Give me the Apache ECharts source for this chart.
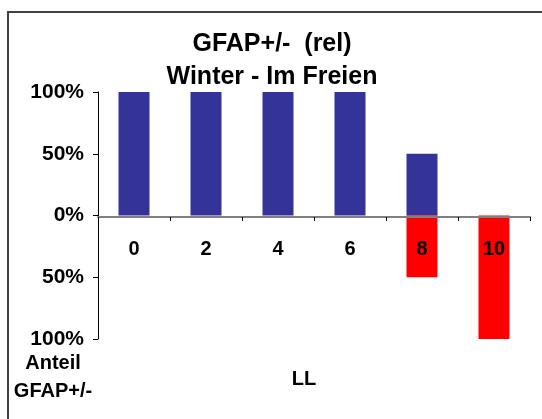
<!DOCTYPE html>
<html>
<head>
<meta charset="utf-8">
<script src="https://cdn.jsdelivr.net/npm/echarts@6/dist/echarts.min.js"></script>
<style>
  html, body { margin: 0; padding: 0; background: #fff; }
  #chart { width: 542px; height: 419px; }
</style>
</head>
<body>
<div id="chart"></div>
<script>
// 数据
var categories = ['0', '2', '4', '6', '8', '10'];
var positiveValues = [100, 100, 100, 100, 50, 0];
var negativeValues = [0, 0, 0, 0, -50, -100];

var chart = echarts.init(document.getElementById('chart'));

var font = 'Liberation Sans, Arial, sans-serif';

var option = {
    animation: false,
    title: {
        text: 'GFAP+/-  (rel)\nWinter - Im Freien',
        left: 267,
        textAlign: 'center',
        top: 23,
        textStyle: {
            fontFamily: font,
            fontWeight: 'bold',
            fontSize: 25,
            lineHeight: 33,
            color: '#000'
        }
    },
    graphic: [{
        type: 'rect',
        shape: { x: 8, y: 12, width: 600, height: 500 },
        style: { fill: 'none', stroke: '#404040', lineWidth: 2 },
        silent: true
    }],
    grid: {
        left: 98,
        right: 12,
        top: 92,
        bottom: 80,
        containLabel: false,
        outerBoundsMode: 'none'
    },
    xAxis: {
        type: 'category',
        data: categories,
        z: 10,
        // x-Achse auf der Nulllinie (Mitte des Bereichs -100..100)
        offset: -122,
        name: 'LL',
        nameLocation: 'middle',
        nameGap: 152,
        nameTextStyle: {
            fontFamily: font,
            fontWeight: 'bold',
            fontSize: 20,
            color: '#000',
            padding: [0, 20, 0, 0]
        },
        axisLine: { onZero: false, lineStyle: { color: '#808080', width: 2 } },
        axisTick: { show: true, length: 4, lineStyle: { color: '#000' } },
        axisLabel: {
            margin: 22,
            fontFamily: font,
            fontWeight: 'bold',
            fontSize: 20,
            color: '#000'
        },
        splitLine: { show: false }
    },
    yAxis: {
        type: 'value',
        min: -100,
        max: 100,
        interval: 50,
        name: 'Anteil\nGFAP+/-',
        nameLocation: 'start',
        nameGap: 8,
        nameTextStyle: {
            fontFamily: font,
            fontWeight: 'bold',
            fontSize: 20,
            lineHeight: 28,
            color: '#000',
            align: 'center',
            verticalAlign: 'top',
            padding: [0, 90, 0, 0]
        },
        axisLine: { show: true, lineStyle: { color: '#000', width: 1 } },
        axisTick: { show: true, length: 5, lineStyle: { color: '#000' } },
        axisLabel: {
            margin: 14,
            fontFamily: font,
            fontWeight: 'bold',
            fontSize: 21,
            color: '#000',
            formatter: function (v) { return Math.abs(v) + '%'; }
        },
        splitLine: { show: false }
    },
    series: [{
        name: 'positiv',
        type: 'bar',
        data: positiveValues,
        barWidth: 31,
        barGap: '-100%',
        itemStyle: { color: '#333399' }
    }, {
        name: 'negativ',
        type: 'bar',
        data: negativeValues,
        barWidth: 31,
        barGap: '-100%',
        itemStyle: { color: '#FF0000' }
    }]
};

chart.setOption(option);
</script>
</body>
</html>
